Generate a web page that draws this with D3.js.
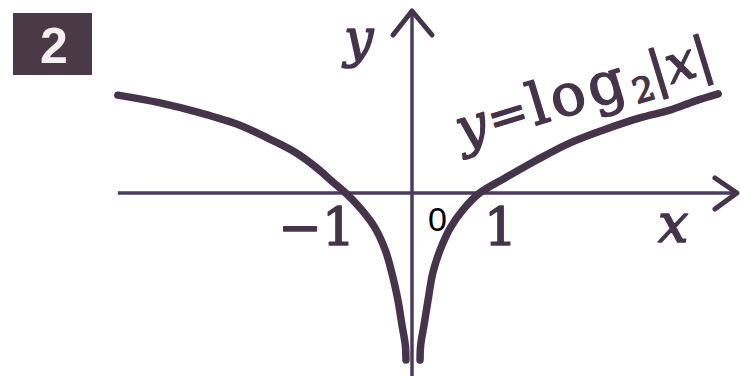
<!DOCTYPE html>
<html>
<head>
<meta charset="utf-8">
<script src="https://cdn.jsdelivr.net/npm/d3@7"></script>
<style>
  body { margin: 0; background: #fff; }
  svg { display: block; }
</style>
</head>
<body>
<script>
var w = 740;
var h = 376;

// curve points, left branch (x < 0)
var leftX = [-4.39, -3.76, -3.16, -2.57, -2.16, -1.75, -1.42, -1.18, -0.99, -0.75, -0.55, -0.40, -0.30, -0.21, -0.15, -0.10, -0.09];
var leftY = [2.15, 1.98, 1.76, 1.49, 1.21, 0.90, 0.55, 0.24, 0, -0.37, -0.77, -1.25, -1.76, -2.35, -2.90, -3.34, -3.67];
// right branch (x > 0)
var rightX = [0.12, 0.13, 0.18, 0.24, 0.31, 0.42, 0.57, 0.76, 1.01, 1.39, 1.87, 2.36, 2.85, 3.40, 3.85, 4.22, 4.57];
var rightY = [-3.67, -3.34, -2.90, -2.35, -1.76, -1.25, -0.77, -0.37, 0, 0.33, 0.73, 1.10, 1.38, 1.65, 1.82, 2.02, 2.18];

var tickValues = [-1, 1];
var tickLabels = ["\u22121", "1"];
var xAxisExtent = [-4.39, 4.85];
var yAxisExtent = [-4.2, 4.0];

var ink = "#45344a";

var svg = d3.select("body")
    .append("svg")
    .attr("width", w)
    .attr("height", h);

svg.append("rect").attr("width", w).attr("height", h).attr("fill", "#fff");

var xScale = d3.scaleLinear().domain([0, 1]).range([412, 479]);
var yScale = d3.scaleLinear().domain([0, 1]).range([193, 147.5]);

// axes
var x0 = xScale(0), y0 = yScale(0);
var xEnd = xScale(xAxisExtent[1]);
var yTop = yScale(yAxisExtent[1]);

svg.append("line")
    .attr("x1", xScale(xAxisExtent[0])).attr("x2", xEnd)
    .attr("y1", y0).attr("y2", y0)
    .attr("stroke", "#4a3d5c").attr("stroke-width", 3.5);

svg.append("line")
    .attr("x1", x0).attr("x2", x0)
    .attr("y1", yScale(yAxisExtent[0])).attr("y2", yTop)
    .attr("stroke", "#4a3d5c").attr("stroke-width", 3.5);

// arrow heads (open chevrons)
svg.append("path")
    .attr("d", "M" + (xEnd - 22) + "," + (y0 - 15) + "L" + xEnd + "," + y0 + "L" + (xEnd - 22) + "," + (y0 + 16))
    .attr("fill", "none").attr("stroke", ink).attr("stroke-width", 5)
    .attr("stroke-linecap", "round").attr("stroke-linejoin", "round");

svg.append("path")
    .attr("d", "M" + (x0 - 19) + "," + (yTop + 24) + "L" + x0 + "," + yTop + "L" + (x0 + 20) + "," + (yTop + 24))
    .attr("fill", "none").attr("stroke", ink).attr("stroke-width", 5)
    .attr("stroke-linecap", "round").attr("stroke-linejoin", "round");

// curve
var line = d3.line()
    .x(function (d) { return xScale(d[0]); })
    .y(function (d) { return yScale(d[1]); })
    .curve(d3.curveCatmullRom);

[d3.zip(leftX, leftY), d3.zip(rightX, rightY)].forEach(function (pts) {
    svg.append("path")
        .attr("d", line(pts))
        .attr("fill", "none")
        .attr("stroke", ink)
        .attr("stroke-width", 7.5)
        .attr("stroke-linecap", "round");
});

// serif text is thickened a bit to look like the printed page
function heavy(sel) {
    return sel.attr("fill", ink).attr("stroke", ink).attr("stroke-width", 1.6)
        .attr("stroke-linejoin", "round");
}

// tick labels
heavy(svg.selectAll(".tick-label")
    .data(tickValues)
    .enter()
    .append("text")
    .attr("class", "tick-label")
    .attr("x", function (d) { return d < 0 ? xScale(d) + 10 : xScale(d) + 5; })
    .attr("y", 245)
    .attr("text-anchor", function (d) { return d < 0 ? "end" : "start"; })
    .attr("font-family", "DejaVu Serif")
    .attr("font-size", 52)
    .text(function (d, i) { return tickLabels[i]; }));

svg.append("text")
    .attr("x", 437.5).attr("y", 231)
    .attr("text-anchor", "middle")
    .attr("font-family", "Liberation Sans")
    .attr("font-size", 34)
    .attr("fill", "#000")
    .text("0");

// axis names
heavy(svg.append("text")
    .attr("x", 658).attr("y", 242)
    .attr("font-family", "DejaVu Serif").attr("font-style", "italic")
    .attr("font-size", 54)
    .text("x"));

heavy(svg.append("text")
    .attr("x", 344).attr("y", 56)
    .attr("font-family", "DejaVu Serif").attr("font-style", "italic")
    .attr("font-size", 52)
    .text("y"));

// formula label, tilted along the curve
var f = heavy(svg.append("g")
    .attr("transform", "translate(462,148) rotate(-17)")
    .attr("font-family", "DejaVu Serif"));

f.append("text").attr("x", 0).attr("y", 0).attr("font-size", 54).attr("font-style", "italic").text("y");
f.append("text").attr("x", 33).attr("y", -2).attr("font-size", 48).text("=");
f.append("text").attr("x", 76).attr("y", 0).attr("font-size", 58).attr("letter-spacing", 4).text("log");
f.append("text").attr("x", 180).attr("y", 9).attr("font-size", 34).text("2");
f.append("text").attr("x", 201).attr("y", 0).attr("font-size", 52)
    .html('|<tspan font-style="italic">x</tspan>|');

// figure number badge
svg.append("rect")
    .attr("x", 13).attr("y", 13).attr("width", 79).attr("height", 62)
    .attr("fill", "#4a3a48");
svg.append("text")
    .attr("x", 54).attr("y", 63)
    .attr("text-anchor", "middle")
    .attr("font-family", "Liberation Sans").attr("font-weight", "bold")
    .attr("font-size", 50).attr("fill", "#f4f0f0")
    .text("2");
</script>
</body>
</html>
